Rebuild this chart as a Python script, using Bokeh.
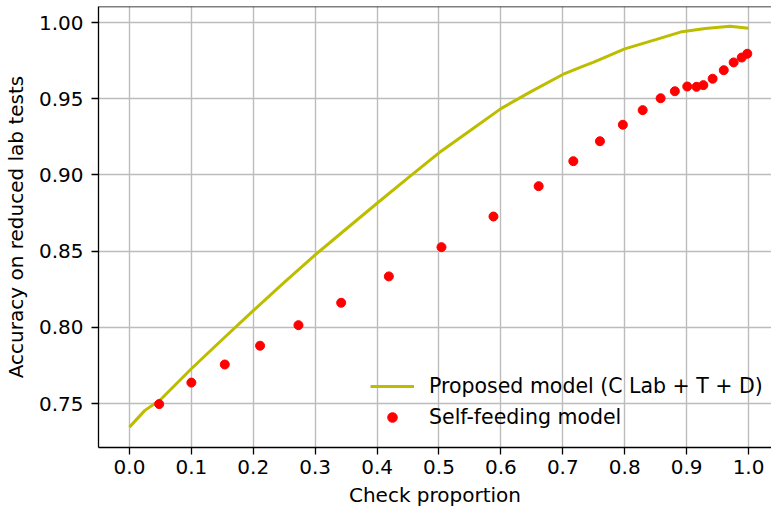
from bokeh.plotting import figure
from bokeh.models import Legend, LegendItem, Span, FixedTicker, Range1d, CustomJSTickFormatter
from bokeh.embed import file_html
from bokeh.resources import INLINE

# Proposed model (C Lab + T + D)
prop_x = [0.000, 0.025, 0.05, 0.10, 0.15, 0.20, 0.25, 0.30, 0.35, 0.40, 0.45,
          0.50, 0.55, 0.60, 0.65, 0.70, 0.729, 0.750, 0.80, 0.85, 0.89,
          0.93, 0.97, 1.00]
prop_y = [0.7345, 0.7455, 0.7525, 0.7728, 0.7920, 0.8109, 0.8295, 0.8475, 0.8645,
          0.8814, 0.8980, 0.9145, 0.9290, 0.9435, 0.9550, 0.9659, 0.9707,
          0.9740, 0.9827, 0.9888, 0.9937, 0.9960, 0.9976, 0.9963]

# Self-feeding model
self_x = [0.048, 0.100, 0.154, 0.211, 0.273, 0.342, 0.419, 0.504, 0.588, 0.661,
          0.717, 0.760, 0.797, 0.829, 0.858, 0.881, 0.901, 0.916, 0.927, 0.942,
          0.960, 0.976, 0.989, 0.998]
self_y = [0.7496, 0.7637, 0.7756, 0.7879, 0.8014, 0.8161, 0.8334, 0.8526, 0.8727,
          0.8926, 0.9090, 0.9221, 0.9329, 0.9425, 0.9503, 0.9549, 0.9580, 0.9578,
          0.9589, 0.9631, 0.9687, 0.9738, 0.9770, 0.9795]

x_ticks = [0.0, 0.1, 0.2, 0.3, 0.4, 0.5, 0.6, 0.7, 0.8, 0.9, 1.0]
y_ticks = [0.75, 0.80, 0.85, 0.90, 0.95, 1.00]

FONT = "DejaVu Sans"
FS = "20px"
Y_TOP = 1.0105

p = figure(width=771, height=517, output_backend="svg", toolbar_location=None,
           x_range=Range1d(-0.05, 1.0371), y_range=Range1d(0.72113, Y_TOP),
           min_border_left=97, min_border_right=0, min_border_top=6,
           min_border_bottom=70)
p.outline_line_color = None
p.background_fill_color = "white"

p.xaxis.ticker = FixedTicker(ticks=x_ticks)
p.yaxis.ticker = FixedTicker(ticks=y_ticks)
p.xaxis.formatter = CustomJSTickFormatter(code="return tick.toFixed(1);")
p.yaxis.formatter = CustomJSTickFormatter(code="return tick.toFixed(2);")
p.xaxis.axis_label = "Check proportion"
p.yaxis.axis_label = "Accuracy on reduced lab tests"

for ax in (p.xaxis, p.yaxis):
    ax.axis_label_text_font = FONT
    ax.axis_label_text_font_size = FS
    ax.axis_label_text_font_style = "normal"
    ax.axis_label_text_color = "black"
    ax.major_label_text_font = FONT
    ax.major_label_text_font_size = FS
    ax.major_label_text_color = "black"
    ax.axis_line_color = "black"
    ax.axis_line_width = 1.3
    ax.major_tick_line_color = "black"
    ax.major_tick_line_width = 1.3
    ax.major_tick_in = 0
    ax.major_tick_out = 7
    ax.minor_tick_line_color = None

p.xaxis.major_label_standoff = 5
p.xaxis.axis_label_standoff = 6
p.yaxis.major_label_standoff = 8
p.yaxis.axis_label_standoff = 8

p.grid.grid_line_color = "#bcbcbc"
p.grid.grid_line_width = 1.4

top = Span(location=Y_TOP, dimension="width", line_color="black", line_width=1.5)
p.add_layout(top)

ln = p.line(prop_x, prop_y, line_color="#bdbd00", line_width=3)
pts = p.scatter(self_x, self_y, size=9, fill_color="red", line_color="red")

legend = Legend(items=[LegendItem(label="Proposed model (C Lab + T + D)", renderers=[ln]),
                       LegendItem(label="Self-feeding model", renderers=[pts])],
                location=(272, 18), orientation="vertical")
legend.background_fill_alpha = 0
legend.border_line_color = None
legend.padding = 0
legend.margin = 0
legend.spacing = 7
legend.glyph_width = 44
legend.glyph_height = 24
legend.label_height = 24
legend.label_standoff = 15
legend.label_text_font = FONT
legend.label_text_font_size = "20.5px"
legend.label_text_color = "black"
p.add_layout(legend)

open("out.html", "w").write(file_html(p, INLINE))
